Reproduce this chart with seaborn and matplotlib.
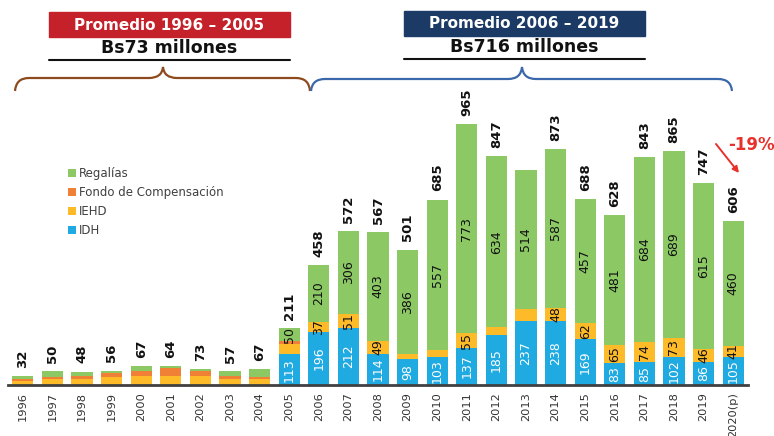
import numpy as np
import pandas as pd
import matplotlib
matplotlib.use("Agg")
import matplotlib.pyplot as plt
import seaborn as sns
from matplotlib.path import Path
from matplotlib.patches import PathPatch, Rectangle

# ---------------- data ----------------
years = ['1996', '1997', '1998', '1999', '2000', '2001', '2002', '2003', '2004', '2005',
         '2006', '2007', '2008', '2009', '2010', '2011', '2012', '2013', '2014', '2015',
         '2016', '2017', '2018', '2019', '2020(p)']
idh = [0, 0, 0, 0, 0, 0, 0, 0, 0, 113,
       196, 212, 114, 98, 103, 137, 185, 237, 238, 169, 83, 85, 102, 86, 105]
iehd = [16, 21, 23, 29, 33, 33, 33, 24, 24, 39,
        37, 51, 49, 17, 25, 55, 28, 44, 48, 62, 65, 74, 73, 46, 41]
fondo = [8, 7, 10, 16, 19, 29, 19, 10, 6, 9,
         0, 0, 0, 0, 0, 0, 0, 0, 0, 0, 0, 0, 0, 0, 0]
regalias = [8, 22, 16, 8, 18, 8, 6, 16, 29, 50,
            210, 306, 403, 386, 557, 773, 634, 514, 587, 457, 481, 684, 689, 615, 460]
totals = [32, 50, 48, 56, 67, 64, 73, 57, 67, 211,
          458, 572, 567, 501, 685, 965, 847, None, 873, 688, 628, 843, 865, 747, 606]
iehd_labels = [None] * 10 + [37, 51, 49, None, None, 55, None, None, 48, 62, 65, 74, 73, 46, 41]
series_names = ['Regalías', 'Fondo de Compensación', 'IEHD', 'IDH']
colors = {'Regalías': '#8CC864', 'Fondo de Compensación': '#F08035',
          'IEHD': '#FDBB2A', 'IDH': '#20AAE2'}

df = pd.DataFrame({'year': years, 'IDH': idh, 'IEHD': iehd,
                   'Fondo de Compensación': fondo, 'Regalías': regalias})
df['c1'] = df['IDH']
df['c2'] = df['c1'] + df['IEHD']
df['c3'] = df['c2'] + df['Fondo de Compensación']
df['c4'] = df['c3'] + df['Regalías']

# ---------------- figure ----------------
sns.set_theme(style="white")
plt.rcParams['font.family'] = ['DejaVu Sans']
fig = plt.figure(figsize=(7.74, 4.36), dpi=100)
ax = fig.add_axes([8 / 774, 51 / 436, 740 / 774, 285 / 436])

for col, name in zip(['c4', 'c3', 'c2', 'c1'], series_names):
    sns.barplot(data=df, x='year', y=col, order=years, color=colors[name],
                saturation=1, width=0.71, ax=ax, label=name, linewidth=0)

ax.set_xlim(-0.5, 24.5)
ax.set_ylim(0, 1054)
ax.set_xlabel('')
ax.set_ylabel('')
ax.set_yticks([])
for s in ['left', 'right', 'top']:
    ax.spines[s].set_visible(False)
ax.spines['bottom'].set_color('#404040')
ax.spines['bottom'].set_linewidth(2)
ax.set_zorder(1)
ax.tick_params(axis='x', length=0, pad=5, labelsize=8.2, labelcolor='#333333',
               rotation=90)

# segment labels
for i in range(len(years)):
    if idh[i] > 0:
        ax.text(i, idh[i] / 2, str(idh[i]), rotation=90, ha='center', va='center',
                color='white', fontsize=9)
    if iehd_labels[i] is not None:
        ax.text(i, df['c1'][i] + iehd[i] / 2, str(iehd_labels[i]), rotation=90,
                ha='center', va='center', color='#111111', fontsize=9)
    if i >= 9:
        ax.text(i, df['c3'][i] + regalias[i] / 2, str(regalias[i]), rotation=90,
                ha='center', va='center', color='#111111', fontsize=9)
    if totals[i] is not None:
        ax.annotate(str(totals[i]), (i, df['c4'][i]), xytext=(0, 6),
                    textcoords='offset points', rotation=90, ha='center',
                    va='bottom', fontsize=9.5, fontweight='bold', color='#111111')

leg = ax.legend(loc='upper left', bbox_to_anchor=(62 / 774, 1 - 161 / 436),
                bbox_transform=fig.transFigure, frameon=False, fontsize=8.5,
                handlelength=0.65, handleheight=0.65, handletextpad=0.3,
                labelspacing=0.52, borderpad=0)
for t in leg.get_texts():
    t.set_color('#404040')

# ---------------- annotations overlay ----------------
ov = fig.add_axes([0, 0, 1, 1], facecolor='none')
ov.set_xlim(0, 774)
ov.set_ylim(436, 0)
ov.axis('off')
ov.set_zorder(2)


def brace(x0, x1, xm, ytop, ymid, yend, color):
    r = 14
    verts = [(x0, yend), (x0 + 1, ymid), (x0 + r, ymid),
             (xm - r, ymid), (xm - 1, ymid), (xm, ytop),
             (xm + 1, ymid), (xm + r, ymid),
             (x1 - r, ymid), (x1 - 1, ymid), (x1, yend)]
    codes = [Path.MOVETO, Path.CURVE3, Path.CURVE3,
             Path.LINETO, Path.CURVE3, Path.CURVE3,
             Path.CURVE3, Path.CURVE3,
             Path.LINETO, Path.CURVE3, Path.CURVE3]
    ov.add_patch(PathPatch(Path(verts, codes), facecolor='none', edgecolor=color, lw=1.6))


brace(15, 310, 163, 67, 78, 91, '#8E4A1F')
brace(311, 732, 522, 67, 79, 91, '#3A68AA')

ov.add_patch(Rectangle((49, 12), 241, 25, color='#C4212B'))
ov.text(169.5, 25, 'Promedio 1996 – 2005', ha='center', va='center', color='white',
        fontsize=11, fontweight='bold')
ov.text(169.5, 48, 'Bs73 millones', ha='center', va='center', color='#111111',
        fontsize=12.5, fontweight='bold')
ov.plot([49, 290], [60, 60], color='#111111', lw=1.5)

ov.add_patch(Rectangle((404, 11), 241, 25, color='#1B3B66'))
ov.text(524.5, 24, 'Promedio 2006 – 2019', ha='center', va='center', color='white',
        fontsize=11, fontweight='bold')
ov.text(524.5, 47, 'Bs716 millones', ha='center', va='center', color='#111111',
        fontsize=12.5, fontweight='bold')
ov.plot([404, 645], [59, 59], color='#111111', lw=1.5)

ov.text(751, 145, '-19%', ha='center', va='center', color='#E8312C',
        fontsize=12, fontweight='bold')
ov.annotate('', xy=(739, 173), xytext=(716, 144),
            arrowprops=dict(arrowstyle='-|>', color='#E8312C', lw=1.4,
                            mutation_scale=9, shrinkA=0, shrinkB=0))

fig.savefig('out.png', dpi=100)
